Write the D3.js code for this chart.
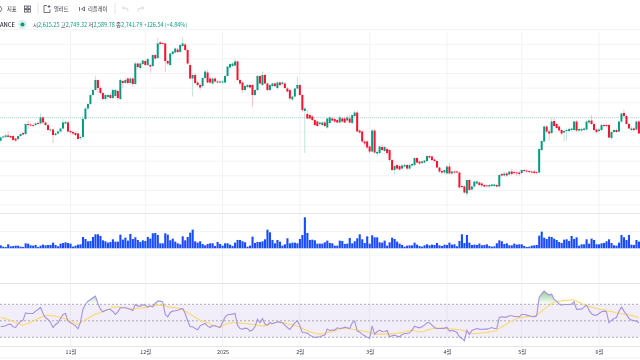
<!DOCTYPE html>
<html>
<head>
<meta charset="utf-8">
<script src="https://cdn.jsdelivr.net/npm/d3@7"></script>
<style>
    html, body { margin: 0; padding: 0; background: #fff; overflow: hidden; }
    svg { display: block; font-family: "Noto Sans CJK KR", "Noto Sans", sans-serif; filter: blur(0.3px); }
</style>
</head>
<body>
<svg id="chart" width="640" height="360"></svg>
<script>
const opens = [
    2350,2405,2415,2440,2430,2430,2387,2379,2430,2482,
    2465,2636,2627,2618,2618,2653,2645,2747,2662,2618,
    2525,2541,2447,2473,2507,2558,2645,2662,2516,2499,
    2482,2473,2396,2413,2721,2900,2978,3131,3217,3388,
    3251,3166,3063,3097,3131,3080,3114,3200,3063,3371,
    3337,3413,3337,3413,3320,3670,3593,3662,3713,3644,
    3644,3627,3815,3764,4030,4021,4013,3713,3644,3833,
    3858,3909,3867,3969,3995,3901,3644,3413,3473,3345,
    3302,3285,3422,3516,3413,3328,3413,3362,3345,3345,
    3345,3456,3601,3627,3635,3705,3388,3345,3217,3268,
    3302,3302,3131,3217,3456,3302,3473,3328,3217,3285,
    3328,3251,3345,3320,3328,3243,3217,3055,3105,3243,
    3302,3131,2858,2807,2789,2764,2704,2678,2636,2618,
    2661,2576,2653,2730,2721,2704,2661,2730,2730,2695,
    2730,2653,2772,2832,2524,2507,2337,2337,2251,2165,
    2524,2131,2140,2242,2174,2208,2191,2020,1849,1934,
    1917,1874,1908,1934,1874,1926,1934,2054,1994,1969,
    1977,2003,2088,2080,2028,2003,1891,1832,1806,1790,
    1908,1790,1823,1823,1806,1575,1567,1447,1678,1515,
    1567,1618,1635,1618,1592,1584,1567,1575,1575,1592,
    1567,1781,1755,1790,1772,1823,1815,1806,1806,1798,
    1849,1840,1832,1823,1823,1815,1806,2191,2337,2593,
    2508,2482,2687,2636,2593,2533,2490,2516,2516,2533,
    2533,2678,2524,2524,2533,2541,2661,2695,2636,2541,
    2516,2533,2618,2618,2618,2396,2499,2533,2507,2678,
    2824,2772,2636,2533,2559,2541,2678
]
const highs = [
    2425,2440,2460,2510,2450,2450,2400,2445,2475,2500,
    2640,2695,2650,2640,2660,2680,2820,2770,2680,2630,
    2560,2565,2490,2525,2570,2730,2690,2690,2540,2530,
    2505,2500,2440,2770,2920,2990,3150,3235,3460,3400,
    3280,3190,3150,3150,3170,3240,3235,3225,3420,3395,
    3420,3440,3440,3445,3700,3690,3690,3735,3735,3770,
    3665,3830,3835,4106,4060,4045,4030,3735,3850,3885,
    3945,3935,4000,4115,4030,3920,3670,3500,3510,3375,
    3325,3445,3560,3560,3440,3430,3445,3385,3395,3385,
    3480,3625,3670,3690,3755,3725,3410,3370,3305,3320,
    3325,3325,3235,3475,3480,3535,3495,3345,3320,3345,
    3350,3365,3365,3365,3350,3265,3240,3115,3250,3448,
    3320,3150,2925,2875,2815,2790,2725,2700,2670,2680,
    2690,2740,2770,2760,2745,2725,2785,2755,2760,2780,
    2790,2800,2865,2860,2545,2530,2355,2355,2270,2545,
    2550,2190,2265,2285,2260,2240,2210,2035,1930,1960,
    1940,1950,1960,1950,1960,1965,2060,2075,2010,2015,
    2020,2105,2105,2100,2045,2020,1905,1855,1860,1930,
    1969,1850,1845,1840,1825,1590,1590,1680,1695,1590,
    1670,1680,1660,1640,1610,1600,1605,1615,1620,1610,
    1775,1800,1815,1815,1835,1870,1840,1825,1830,1860,
    1870,1860,1855,1845,1845,1830,2220,2370,2610,2620,
    2540,2740,2740,2655,2610,2555,2540,2555,2570,2575,
    2690,2700,2570,2575,2575,2695,2725,2789,2655,2560,
    2570,2635,2640,2640,2640,2520,2550,2555,2695,2830,
    2880,2790,2655,2590,2585,2695,2700
]
const lows = [
    2330,2385,2395,2405,2395,2350,2330,2360,2415,2440,
    2450,2550,2585,2585,2600,2625,2630,2640,2600,2515,
    2505,2311,2430,2455,2490,2540,2625,2490,2470,2450,
    2430,2355,2360,2395,2700,2880,2960,3115,3200,3170,
    3140,3045,3030,3065,3060,3060,3090,3040,3045,3250,
    3320,3315,3310,3270,3305,3590,3575,3645,3630,3625,
    3510,3610,3740,3745,3985,3985,3525,3640,3625,3815,
    3840,3850,3850,3950,3880,3660,3405,3105,3320,3280,
    3215,3260,3400,3330,3320,3310,3345,3325,3330,3325,
    3330,3440,3585,3610,3620,3370,3300,3165,3195,3245,
    3240,2930,3115,3200,3310,3285,3315,3195,3195,3265,
    3265,3230,3285,3300,3235,3170,3035,3030,3090,3225,
    3115,2840,2140,2715,2720,2685,2600,2580,2615,2600,
    2585,2555,2635,2680,2660,2645,2645,2665,2645,2675,
    2645,2635,2755,2500,2465,2310,2265,2205,2130,2150,
    2125,2080,2120,2175,2155,2100,1985,1830,1770,1850,
    1840,1855,1890,1850,1855,1900,1915,1960,1945,1950,
    1955,1985,2045,1995,1980,1880,1800,1770,1785,1770,
    1775,1770,1790,1790,1535,1535,1440,1392,1490,1500,
    1545,1600,1570,1560,1550,1555,1550,1560,1560,1545,
    1550,1735,1735,1730,1755,1755,1770,1750,1745,1780,
    1810,1800,1795,1790,1770,1770,1790,2170,2320,2480,
    2350,2465,2590,2550,2510,2440,2335,2353,2495,2515,
    2515,2500,2505,2505,2515,2525,2640,2620,2515,2470,
    2480,2515,2580,2575,2390,2370,2480,2480,2490,2660,
    2750,2620,2545,2510,2510,2525,2470
]
const closes = [
    2405,2422,2440,2415,2405,2362,2353,2430,2465,2456,
    2636,2618,2610,2610,2645,2636,2747,2662,2618,2533,
    2541,2447,2473,2507,2558,2662,2670,2507,2494,2473,
    2447,2379,2413,2721,2900,2978,3131,3217,3388,3251,
    3166,3063,3131,3131,3080,3217,3217,3080,3388,3337,
    3388,3337,3413,3320,3670,3610,3670,3722,3644,3747,
    3618,3815,3755,4013,4004,4004,3713,3670,3841,3875,
    3926,3867,3986,4013,3901,3670,3413,3473,3337,3302,
    3260,3422,3533,3345,3345,3413,3362,3345,3362,3362,
    3456,3618,3662,3670,3705,3388,3328,3217,3285,3302,
    3260,3131,3217,3456,3328,3473,3328,3217,3302,3328,
    3285,3345,3302,3345,3251,3192,3072,3105,3243,3302,
    3131,2875,2900,2730,2730,2704,2618,2601,2661,2661,
    2601,2730,2747,2695,2678,2661,2747,2678,2661,2747,
    2661,2789,2832,2507,2490,2337,2303,2234,2165,2524,
    2148,2157,2251,2191,2242,2140,2020,1849,1917,1874,
    1857,1926,1934,1874,1934,1952,2054,1977,1960,1994,
    2011,2088,2062,2020,2003,1891,1823,1806,1849,1908,
    1790,1823,1806,1806,1550,1558,1464,1678,1507,1567,
    1652,1652,1592,1584,1567,1575,1592,1601,1601,1567,
    1763,1755,1790,1755,1823,1781,1798,1790,1781,1849,
    1832,1823,1815,1806,1798,1806,2208,2345,2593,2508,
    2473,2678,2601,2567,2525,2473,2516,2533,2550,2558,
    2678,2524,2550,2550,2558,2678,2695,2636,2533,2499,
    2541,2618,2601,2601,2404,2499,2533,2499,2678,2815,
    2772,2636,2559,2559,2533,2678,2473
]
const volumes = [
    9,5,4,12,6,7,8,8,5,4,
    15,14,9,8,10,4,8,11,9,10,
    10,17,10,6,14,16,18,16,14,5,
    8,11,12,34,28,21,22,34,42,42,
    37,24,21,17,19,27,20,20,41,26,
    32,23,43,28,33,25,19,24,22,34,
    29,45,46,40,15,15,45,41,24,29,
    20,15,12,36,24,34,47,56,21,17,
    21,13,9,13,15,15,7,19,13,8,
    15,15,11,7,17,25,25,21,18,5,
    8,35,16,19,19,21,27,56,48,25,
    15,25,20,8,12,30,15,17,17,15,
    28,40,93,46,25,26,24,14,14,14,
    18,23,16,15,8,8,23,22,13,14,
    31,15,21,30,42,27,16,36,14,39,
    33,33,18,17,23,8,18,32,28,20,
    14,10,5,8,9,9,17,11,7,5,
    9,12,9,11,10,16,9,7,11,10,
    17,11,12,6,22,42,16,40,17,10,
    11,10,14,9,10,12,7,5,6,15,
    24,21,13,15,9,9,14,11,12,12,
    7,4,5,8,9,10,38,50,32,28,
    35,34,29,25,19,16,26,27,22,37,
    28,33,8,12,12,27,14,29,25,12,
    12,15,16,21,27,16,9,8,17,40,
    33,25,40,11,10,25,20
]
const rsi_values = [
    43.1,43.1,43.9,45.6,46,42.7,41.9,46.4,49.6,50.8,
    59.7,58.9,58.9,58.9,61.7,63.7,66.2,58.9,53.6,51.6,
    48,41.9,45.6,47.6,52.8,57.7,58.9,49.6,47.6,46,
    43.9,40.3,48,63.7,69.8,73.8,75.5,77.9,79.9,71,
    64.1,60.9,62.5,63.7,63.7,61.3,57.7,60.9,65.8,65.8,
    65.8,65,64.1,62.5,69.8,67.8,67.8,69.4,69,66.6,
    68.2,67,71,73.8,73.8,73,57.7,54.8,60.1,61.7,
    62.1,62.9,64.1,65,58.9,50,42.7,42.7,40.7,39.1,
    43.9,45.6,46.8,43.5,41.9,44.3,43.9,42.7,41.9,48,
    54.4,57.3,57.7,58.1,58.9,44.7,40.7,39.9,41.1,40.7,
    37.5,38.7,42.7,52,47.6,52.8,46,44.7,48,46.4,
    47.6,48.8,48.4,47.6,44.7,41.9,39.5,43.5,47.6,50,
    43.9,35.9,35.5,35.1,32.6,31,29.8,30.2,30.6,31.8,
    32.6,39.9,38.3,38.7,38.7,41.5,40.7,41.1,42.3,41.5,
    40.7,47.6,49.6,37.5,36.3,33.8,31.8,30.2,28.6,43.9,
    33.8,36.7,38.7,36.7,37.1,38.3,30.6,31.8,32.6,31.4,
    30.6,33.4,34.6,34.6,35.5,38.7,43.5,42.3,41.5,42.7,
    44.7,47.6,47.6,44.7,41.9,40.7,40.7,40.7,41.1,41.9,
    37.5,38.3,37.5,35.9,30.6,28.6,25.8,38.7,33.4,38.3,
    39.5,40.7,39.9,39.5,39.9,39.9,40.7,41.9,40.7,40.7,
    54,54.8,54.4,54.4,56.1,56.1,55.3,55.3,54.8,57.7,
    57.7,56.9,56.1,55.3,54.8,56.1,78.3,82.7,86,83.1,
    81.5,82.3,75.9,73.8,70.2,69,69.8,69.8,69.8,70.2,
    73,63.7,64.1,64.1,66.6,69,62.9,58.5,56.9,56.9,
    58.9,60.9,61.7,60.9,47.6,50.4,52.8,54,61.7,66.6,
    61.7,57.7,52.8,50.8,50.4,49.6,47.6
]
const rsi_ma_values = [
    54,53.2,52.4,51.6,50.4,49.2,48,46.8,45.6,44.7,
    46,46.8,48,49.6,51.2,52.8,54,55.3,56.1,56.5,
    56.5,56.1,55.7,54.8,54,53.2,52.4,51.2,50,48.4,
    46.8,45.6,47.6,49.2,51.2,53.2,54.4,56.5,58.1,58.9,
    60.1,61.7,62.5,63.7,65,66.2,66.6,66.6,66.6,66.2,
    65.8,65,64.5,64.1,64.5,65,65.4,65.8,66.2,66.6,
    67.4,68.2,68.6,69,69,68.6,67.8,67,66.6,66.2,
    65.8,65.4,65,63.3,61.7,60.1,58.1,56.1,54.4,52.4,
    50.8,49.6,48.8,47.6,46.4,44.7,43.9,43.1,42.7,43.9,
    45.6,46.4,47.2,47.6,47.6,47.2,47.2,46.8,46.8,46.4,
    46,45.6,45.6,44.7,44.3,43.9,43.9,44.7,46,46.8,
    47.6,48,48,47.6,47.2,46.4,45.6,45.2,44.7,43.5,
    42.3,40.7,39.5,38.3,37.1,35.9,35.1,34.2,34.2,34.2,
    34.6,35.5,36.3,37.1,37.9,39.1,40.3,40.7,40.7,40.7,
    40.3,39.9,39.5,38.7,38.3,37.9,37.1,36.7,35.9,35.1,
    34.2,33.8,33.8,33.8,33.8,33.8,34.2,34.2,34.6,35.1,
    35.5,35.9,36.7,37.5,38.3,38.7,37.9,37.1,36.7,36.7,
    37.1,38.7,39.5,40.3,40.7,41.1,41.1,41.1,40.7,40.3,
    40.3,39.9,39.9,39.5,39.5,38.7,37.5,35.9,35.5,34.6,
    34.6,34.6,35.1,35.5,35.5,35.9,36.3,37.1,37.5,37.9,
    40.7,42.7,44.7,46.4,48,49.6,51.2,52.8,53.6,54,
    54.4,54.8,55.3,55.7,56.1,56.9,59.3,61.7,64.1,66.6,
    68.6,70.6,72.2,73,73.4,74.2,74.6,75,75,75.5,
    75,73.8,72.2,71,69.4,68.2,67.4,66.6,65.8,65,
    64.1,63.7,63.3,62.9,61.7,61.3,60.5,59.7,58.9,58.5,
    58.1,57.7,57.3,56.5,55.7,54.8,54
]
const tick_days = [28, 58, 89, 120, 148, 179, 209, 240]
const tick_labels = ['11월', '12월', '2025', '2월', '3월', '4월', '5월', '6월']
const grid_prices = [1250, 1500, 1750, 2000, 2250, 2500, 2750, 3000, 3250, 3500, 3750, 4000, 4250]
const rsi_levels = [70, 50, 30]
const last_price = 2741.79
const header_parts = [['시', '2,615.25'], ['고', '2,749.32'], ['저', '2,589.78'], ['종', '2,741.79']]
const header_change = '+126.54 (+4.84%)'

const up_color = '#089981'
const down_color = '#f7122f'
const line_color = '#eef0f3'
const pane_color = '#e3e5e9'

const svg = d3.select('#chart')
const days = d3.range(closes.length)

const x = d3.scaleLinear().domain([0, 256]).range([0.67, 638.9])
const y_price = d3.scaleLinear().domain([1421.5, 4072]).range([195, 40])
const y_volume = d3.scaleLinear().domain([0, 93]).range([248.3, 217.3])
const y_rsi = d3.scaleLinear().domain([30, 70]).range([337.3, 304.3])

// grid behind everything
const grid = svg.append('g').attr('stroke', line_color).attr('stroke-width', 1).attr('fill', 'none')

grid.selectAll('.grid_x')
    .data(tick_days)
    .join('line')
    .attr('x1', d => x(d))
    .attr('x2', d => x(d))
    .attr('y1', 32)
    .attr('y2', 346)
    .attr('opacity', 0.8)

grid.selectAll('.grid_y')
    .data(grid_prices)
    .join('line')
    .attr('x1', 0)
    .attr('x2', 640)
    .attr('y1', d => y_price(d))
    .attr('y2', d => y_price(d))
    .attr('opacity', 0.8)

// pane separators
grid.selectAll('.pane')
    .data([213.5, 283.5, 346.5])
    .join('line')
    .attr('x1', 0)
    .attr('x2', 640)
    .attr('y1', d => d)
    .attr('y2', d => d)
    .attr('stroke', pane_color)

grid.selectAll('.pane_light')
    .data([231.5, 255, 358])
    .join('line')
    .attr('x1', 0)
    .attr('x2', 640)
    .attr('y1', d => d)
    .attr('y2', d => d)
    .attr('opacity', 0.8)

// last price line
svg.append('line')
    .attr('x1', 0)
    .attr('x2', 640)
    .attr('y1', y_price(last_price))
    .attr('y2', y_price(last_price))
    .attr('stroke', up_color)
    .attr('stroke-opacity', 0.3)
    .attr('stroke-dasharray', '1 1')

// candles
const candle = svg.append('g')
    .selectAll('g')
    .data(days)
    .join('g')
    .attr('fill', d => closes[d] >= opens[d] ? up_color : down_color)

candle.append('rect')
    .attr('x', d => x(d) - 0.4)
    .attr('width', 0.8)
    .attr('y', d => y_price(highs[d]))
    .attr('height', d => y_price(lows[d]) - y_price(highs[d]))
    .attr('opacity', 0.32)

candle.append('rect')
    .attr('x', d => x(d) - 1)
    .attr('width', 2)
    .attr('y', d => y_price(Math.max(opens[d], closes[d])))
    .attr('height', d => Math.max(0.8, Math.abs(y_price(opens[d]) - y_price(closes[d]))))

// volume
svg.append('g')
    .selectAll('rect')
    .data(days)
    .join('rect')
    .attr('x', d => x(d) - 1)
    .attr('width', 2.1)
    .attr('y', d => y_volume(volumes[d]))
    .attr('height', d => y_volume(0) - y_volume(volumes[d]))
    .attr('fill', '#1a4cff')

// rsi band, levels, lines
svg.append('rect')
    .attr('x', 0)
    .attr('width', 640)
    .attr('y', y_rsi(70))
    .attr('height', y_rsi(30) - y_rsi(70))
    .attr('fill', '#7e57c2')
    .attr('opacity', 0.1)

svg.append('g')
    .selectAll('line')
    .data(rsi_levels)
    .join('line')
    .attr('x1', 0)
    .attr('x2', 640)
    .attr('y1', d => y_rsi(d))
    .attr('y2', d => y_rsi(d))
    .attr('stroke', '#787b86')
    .attr('stroke-opacity', 0.6)
    .attr('stroke-dasharray', '2 2')

const defs = svg.append('defs')
defs.append('clipPath').attr('id', 'over_clip')
    .append('rect').attr('x', 0).attr('width', 640).attr('y', 285).attr('height', y_rsi(70) - 285)
const over_grad = defs.append('linearGradient').attr('id', 'over_grad')
    .attr('gradientUnits', 'userSpaceOnUse')
    .attr('x1', 0).attr('x2', 0).attr('y1', 289).attr('y2', y_rsi(70))
over_grad.append('stop').attr('offset', '0%').attr('stop-color', '#4caf50').attr('stop-opacity', 0.7)
over_grad.append('stop').attr('offset', '100%').attr('stop-color', '#4caf50').attr('stop-opacity', 0)

svg.append('path')
    .datum(days)
    .attr('clip-path', 'url(#over_clip)')
    .attr('fill', 'url(#over_grad)')
    .attr('d', d3.area().x(d => x(d)).y0(y_rsi(70)).y1(d => y_rsi(rsi_values[d])))

const rsi_ma_line = d3.line().x(d => x(d)).y(d => y_rsi(rsi_ma_values[d])).curve(d3.curveMonotoneX)
const rsi_line = d3.line().x(d => x(d)).y(d => y_rsi(rsi_values[d]))

svg.append('path')
    .datum(days)
    .attr('d', rsi_ma_line)
    .attr('fill', 'none')
    .attr('stroke', '#fdd96a')
    .attr('stroke-width', 1.1)

svg.append('path')
    .datum(days)
    .attr('d', rsi_line)
    .attr('fill', 'none')
    .attr('stroke', '#a792de')
    .attr('stroke-width', 1.1)

// time axis
const axis = svg.append('g')
    .attr('transform', 'translate(0,346)')
    .call(d3.axisBottom(x)
        .tickValues(tick_days)
        .tickFormat((d, i) => tick_labels[i])
        .tickSize(0)
        .tickPadding(4))

axis.select('.domain').remove()
axis.selectAll('text')
    .attr('font-family', '"Noto Sans CJK KR", "Noto Sans", sans-serif')
    .attr('font-size', 5.4)
    .attr('fill', '#3a3e4a')

// header row
const header = svg.append('text')
    .attr('x', 33)
    .attr('y', 27)
    .attr('font-size', 5.5)

header_parts.forEach(p => {
    header.append('tspan').attr('fill', '#3a3e4a').text(p[0])
    header.append('tspan').attr('fill', up_color).text(p[1] + ' ')
})
header.append('tspan').attr('fill', up_color).text(header_change)

svg.append('text')
    .attr('x', 0)
    .attr('y', 27)
    .attr('font-size', 5.8)
    .attr('font-weight', 500)
    .attr('fill', '#2a2e39')
    .text('ANCE')

svg.append('circle').attr('cx', 22.5).attr('cy', 24.5).attr('r', 4.5).attr('fill', up_color).attr('opacity', 0.15)
svg.append('circle').attr('cx', 22.5).attr('cy', 24.5).attr('r', 2).attr('fill', up_color)

// toolbar
const toolbar_text = [[7, '지표'], [54, '얼러트'], [88, '리플레이']]
svg.append('g')
    .selectAll('text')
    .data(toolbar_text)
    .join('text')
    .attr('x', d => d[0])
    .attr('y', 11)
    .attr('font-size', 5.3)
    .attr('fill', '#2a2e39')
    .text(d => d[1])

const tool_icons = svg.append('g').attr('fill', 'none').attr('stroke', '#3a3e4a').attr('stroke-width', 0.7)

tool_icons.append('path').attr('d', 'M0 6 L2 9 L0 12')
tool_icons.selectAll('rect')
    .data([[24.5, 6], [28, 6], [24.5, 9.5], [28, 9.5]])
    .join('rect')
    .attr('x', d => d[0])
    .attr('y', d => d[1])
    .attr('width', 2.6)
    .attr('height', 2.6)
tool_icons.append('path').attr('d', 'M47 5.5 H44 V12.5 H50 V9.5 M49 5 v3 M47.5 6.5 h3')
tool_icons.append('path').attr('d', 'M79.5 7 v4 M84.5 7 l-3 2 l3 2 z')
tool_icons.append('path').attr('d', 'M128 11.5 q0.5 -3.5 -3 -3.5 h-2.5 m1.5 -1.5 l-1.5 1.5 l1.5 1.5').attr('stroke', '#c4c7cf')
tool_icons.append('path').attr('d', 'M138 11.5 q-0.5 -3.5 3 -3.5 h2.5 m-1.5 -1.5 l1.5 1.5 l-1.5 1.5').attr('stroke', '#c4c7cf')

svg.append('g')
    .selectAll('line')
    .data([38, 115])
    .join('line')
    .attr('x1', d => d)
    .attr('x2', d => d)
    .attr('y1', 3)
    .attr('y2', 14)
    .attr('stroke', '#e3e5e9')
</script>
</body>
</html>
